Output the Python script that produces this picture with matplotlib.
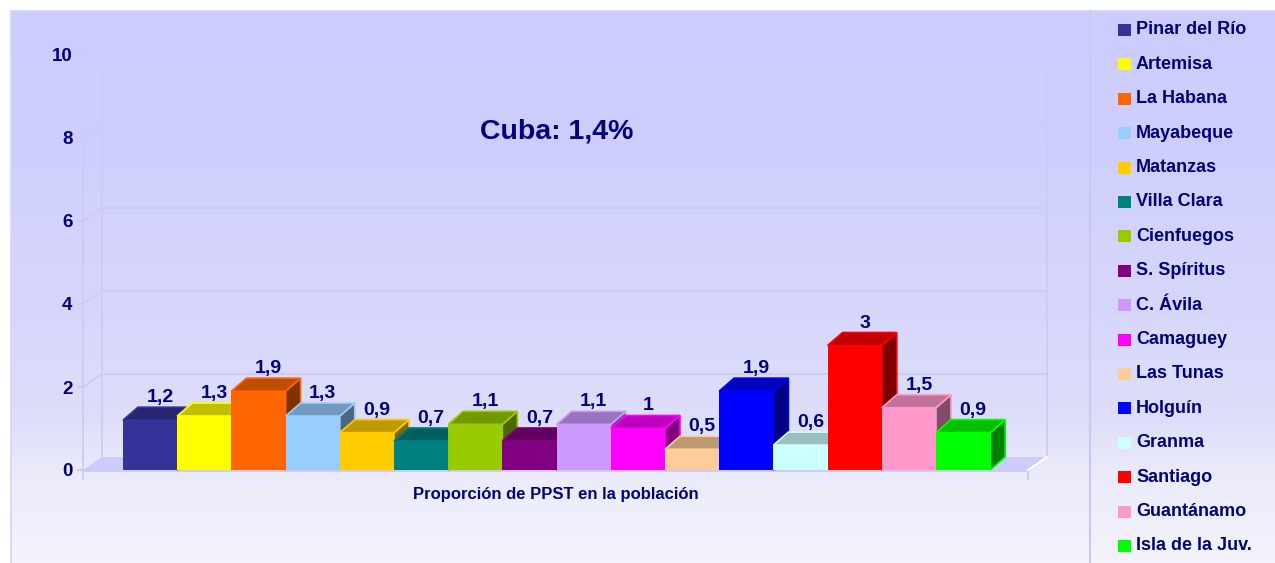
import numpy as np
import matplotlib
matplotlib.use("Agg")
import matplotlib.pyplot as plt
from matplotlib.patches import Polygon, Rectangle
from matplotlib.colors import to_rgb

plt.rcParams['font.family'] = ['Liberation Sans', 'DejaVu Sans']

# ---------------- data ----------------
provinces = ['Pinar del Río', 'Artemisa', 'La Habana', 'Mayabeque', 'Matanzas',
             'Villa Clara', 'Cienfuegos', 'S. Spíritus', 'C. Ávila', 'Camaguey',
             'Las Tunas', 'Holguín', 'Granma', 'Santiago', 'Guantánamo',
             'Isla de la Juv.']
values = [1.2, 1.3, 1.9, 1.3, 0.9, 0.7, 1.1, 0.7, 1.1, 1.0, 0.5, 1.9, 0.6, 3.0, 1.5, 0.9]
colors = ['#333399', '#FFFF00', '#FF6600', '#99CCFF', '#FFCC00', '#008080',
          '#99CC00', '#800080', '#CC99FF', '#FF00FF', '#FFCC99', '#0000FF',
          '#CCFFFF', '#FF0000', '#FF99CC', '#00FF00']
yticks = [0, 2, 4, 6, 8, 10]
xlabel = 'Proporción de PPST en la población'
annotation = 'Cuba: 1,4%'

NAVY = '#000080'
GRID = '#CBCBF5'

W, H = 1275, 563
fig = plt.figure(figsize=(W / 100, H / 100), dpi=100)

# ---------------- background panel ----------------
bg = fig.add_axes([0, 0, 1, 1])
bg.set_xlim(0, W)
bg.set_ylim(H, 0)
bg.axis('off')
stops_y = [11, 150, 300, 420, 470, 563]
stops_c = [(204, 204, 255), (207, 207, 254), (214, 214, 252), (222, 222, 250),
           (234, 234, 251), (244, 244, 252)]
ys = np.arange(11, H)
img = np.zeros((len(ys), 1, 3))
for k in range(3):
    img[:, 0, k] = np.interp(ys, stops_y, [c[k] for c in stops_c]) / 255
bg.imshow(img, extent=[11, W, H, 11], aspect='auto', zorder=0, interpolation='bilinear')
bg.plot([11, 11], [11, H], color='#D4D4F6', lw=1.2, zorder=1)
bg.plot([11, W], [11, 11], color='#D4D4F6', lw=1.2, zorder=1)
bg.plot([1090, 1090], [11, H], color='#C8C8F2', lw=1.5, zorder=1)

# ---------------- main axes ----------------
px_l, px_r, px_top, px_bot = 83, 1028, 55, 470
ax = fig.add_axes([px_l / W, (H - px_bot) / H, (px_r - px_l) / W, (px_bot - px_top) / H])
ax.set_facecolor('none')
bar_px = 54.2
x0 = -0.5 - (123 - px_l) / bar_px
x1 = x0 + (px_r - px_l) / bar_px
ax.set_xlim(x0, x1)
ax.set_ylim(yticks[0], yticks[-1])
ppx = (x1 - x0) / (px_r - px_l)
ppy = (yticks[-1] - yticks[0]) / (px_bot - px_top)

for s in ax.spines.values():
    s.set_visible(False)
ax.set_xticks([])
ax.set_yticks(yticks)
ax.set_yticklabels([str(t) for t in yticks])
ax.tick_params(axis='y', length=4.5, width=1.5, color=GRID, pad=3,
               labelsize=13.5, labelcolor=NAVY)
for lab in ax.get_yticklabels():
    lab.set_fontweight('bold')

# walls / floor
wdx, wdy = 19 * ppx, 13 * ppy
ytop = (px_bot - 68) * ppy
kw = dict(color=GRID, lw=1.3, clip_on=False, zorder=2)
ax.plot([x0, x0], [-9 * ppy, ytop], **kw)
ax.plot([x0 + wdx, x0 + wdx], [wdy, ytop], **kw)
ax.plot([x1 + wdx, x1 + wdx], [wdy, ytop], **kw)
for v in yticks[1:-1]:
    ax.plot([x0, x0 + wdx, x1 + wdx], [v, v + wdy, v + wdy], **kw)
floor = Polygon([(x0, 0), (x1, 0), (x1 + wdx, wdy), (x0 + wdx, wdy)],
                closed=True, fc='#CCCCFF', ec='none', clip_on=False, zorder=3)
ax.add_patch(floor)
ax.plot([x0, x1], [0, 0], color=GRID, lw=2, clip_on=False, zorder=4)
ax.plot([x1, x1], [0, -9 * ppy], color=GRID, lw=1.5, clip_on=False, zorder=4)
ax.plot([x1, x1 + wdx], [0, wdy], color='white', lw=1.5, clip_on=False, zorder=4)

# bars
bdx, bdy = 15 * ppx, 13 * ppy
for i, (v, c) in enumerate(zip(values, colors)):
    rgb = np.array(to_rgb(c))
    xl, xr = i - 0.5, i + 0.5
    z = 10 + 3 * i
    ax.add_patch(Polygon([(xr, 0), (xr + bdx, bdy), (xr + bdx, v + bdy), (xr, v)],
                         closed=True, fc=rgb * 0.5, ec=rgb, lw=1.2,
                         clip_on=False, zorder=z))
    ax.add_patch(Polygon([(xl, v), (xr, v), (xr + bdx, v + bdy), (xl + bdx, v + bdy)],
                         closed=True, fc=rgb * 0.75, ec=rgb, lw=1.2,
                         clip_on=False, zorder=z + 1))
    ax.add_patch(Rectangle((xl, 0), 1, v, fc=rgb, ec='none', clip_on=False, zorder=z + 2))
    lab = f"{v:g}".replace('.', ',')
    ax.text(i + 10 * ppx, v + bdy + 5 * ppy, lab, ha='center', va='baseline',
            fontsize=14, fontweight='bold', color=NAVY, zorder=200, clip_on=False)

ax.text((len(values) - 1) / 2, (px_bot - 132) * ppy, annotation, ha='center', va='center',
        fontsize=20.5, fontweight='bold', color=NAVY, zorder=200)

ax.set_xlabel(xlabel, fontsize=12, fontweight='bold', color=NAVY, labelpad=12)

# legend
for i, (name, c) in enumerate(zip(provinces, colors)):
    yc = 30 + i * 34.4
    bg.add_patch(Rectangle((1118, yc - 6), 13, 12, fc=c, ec='none', zorder=5))
    bg.text(1136, yc, name, ha='left', va='center', fontsize=13,
            fontweight='bold', color=NAVY, zorder=5)

fig.savefig('out.png', dpi=100)
